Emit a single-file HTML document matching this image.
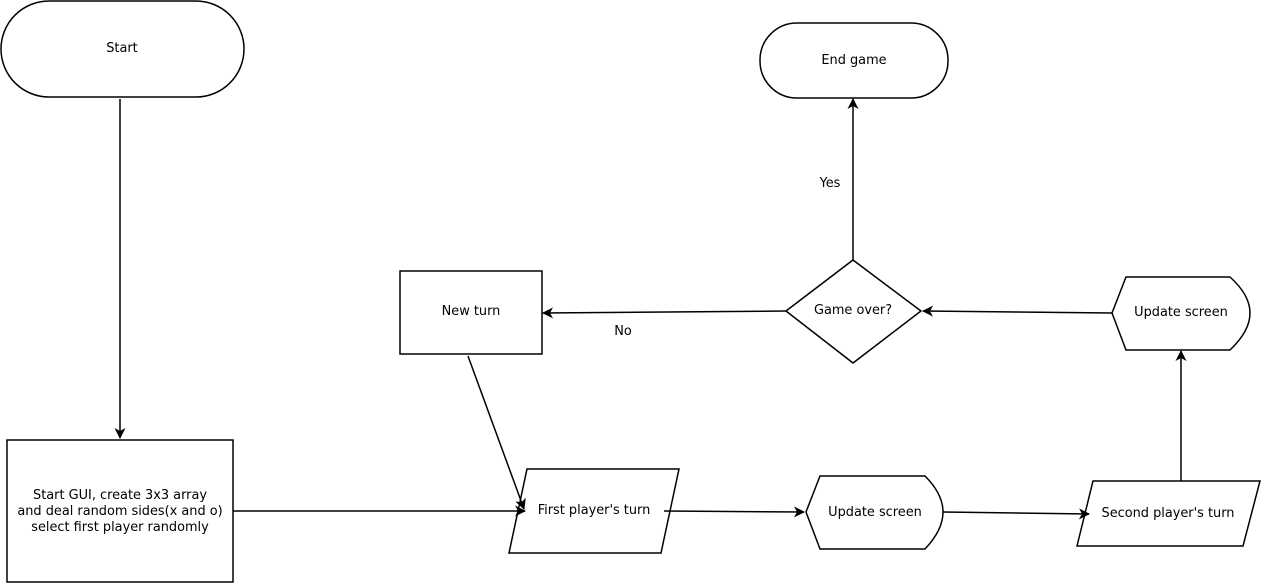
<!DOCTYPE html>
<html><head><meta charset="utf-8"><style>
html,body{margin:0;padding:0;background:#fff;}
svg{display:block;}
text{font-family:"DejaVu Sans","Liberation Sans",sans-serif;font-size:12.9px;fill:#000;}
</style></head><body>
<svg width="1261" height="583" viewBox="0 0 1261 583" xmlns="http://www.w3.org/2000/svg">
<defs>
<marker id="a" markerWidth="11" markerHeight="11" refX="10" refY="5.5" orient="auto" markerUnits="userSpaceOnUse">
<path d="M0,0 L11,5.5 L0,11 L3,5.5 Z" fill="#000"/>
</marker>
</defs>
<g fill="none" stroke="#000" stroke-width="1.5">
<rect x="1" y="1" width="243" height="96" rx="48" ry="48"/>
<rect x="760" y="23" width="188" height="75" rx="37" ry="37"/>
<rect x="7" y="440" width="226" height="142"/>
<rect x="400" y="271" width="142" height="83"/>
<polygon points="786,311 853,260 921,311 853,363"/>
<path d="M1112,313 L1126,277 L1230,277 Q1250,295 1250,313 Q1250,331 1230,350 L1126,350 Z"/>
<path d="M806,512 L820,476 L925,476 Q943,494 943,512 Q943,530 925,549 L820,549 Z"/>
<polygon points="527,469 679,469 661,553 509,553"/>
<polygon points="1093,481 1260,481 1243,546 1077,546"/>
<g marker-end="url(#a)">
<line x1="120" y1="99" x2="120" y2="438"/>
<line x1="233" y1="511" x2="525" y2="511"/>
<line x1="468" y1="356" x2="524" y2="509"/>
<line x1="664" y1="511" x2="804" y2="512"/>
<line x1="943" y1="512" x2="1089" y2="514"/>
<line x1="1181" y1="481" x2="1181" y2="351"/>
<line x1="1112" y1="313" x2="923" y2="311"/>
<line x1="786" y1="311" x2="543" y2="313"/>
<line x1="853" y1="260" x2="853" y2="99"/>
</g>
</g>
<g text-anchor="middle">
<text x="122" y="52">Start</text>
<text x="854" y="64">End game</text>
<text x="120" y="499">Start GUI, create 3x3 array</text>
<text x="120" y="515">and deal random sides(x and o)</text>
<text x="120" y="531">select first player randomly</text>
<text x="471" y="315">New turn</text>
<text x="853" y="314">Game over?</text>
<text x="1181" y="316">Update screen</text>
<text x="875" y="516">Update screen</text>
<text x="594" y="514">First player's turn</text>
<text x="1168" y="517">Second player's turn</text>
<text x="830" y="187">Yes</text>
<text x="623" y="335">No</text>
</g>
</svg>
</body></html>
